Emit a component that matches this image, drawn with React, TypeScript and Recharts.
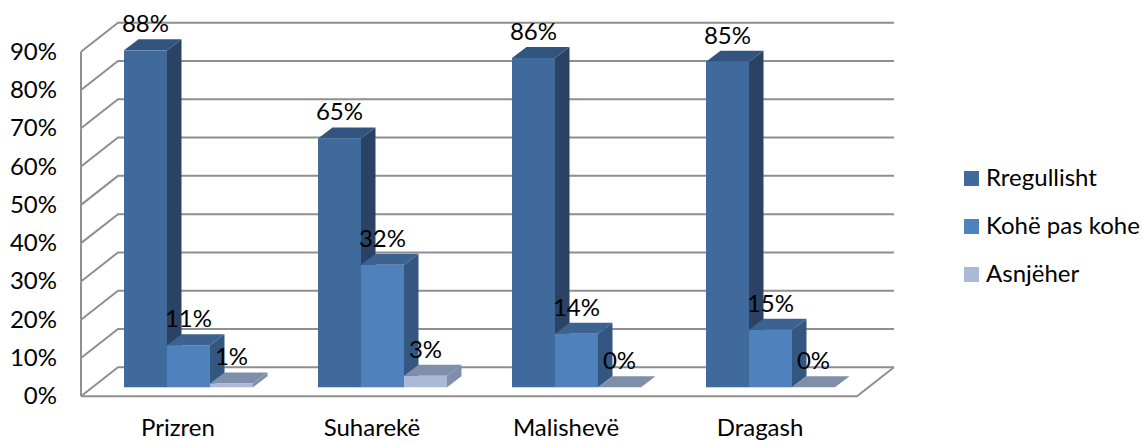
import { BarChart, Bar, XAxis, YAxis, CartesianGrid, Legend, LabelList } from "recharts";

const CITIES = ["Prizren", "Suharekë", "Malishevë", "Dragash"];
const RREGULLISHT = [88, 65, 86, 85];
const KOHE_PAS_KOHE = [11, 32, 14, 15];
const ASNJEHER = [1, 3, 0, 0];
const Y_TICKS = [0, 10, 20, 30, 40, 50, 60, 70, 80, 90];

const SERIES_NAMES = ["Rregullisht", "Kohë pas kohe", "Asnjëher"];
const FACES = [
  { front: "#40699C", side: "#2A4365", top: "#32557F" },
  { front: "#4F81BD", side: "#335781", top: "#3C628F" },
  { front: "#AAB9D8", side: "#7F8FAA", top: "#7F8FAA" },
];

const data = CITIES.map((city, i) => ({
  city,
  rregullisht: RREGULLISHT[i],
  kohe: KOHE_PAS_KOHE[i],
  asnjeher: ASNJEHER[i],
}));

const FONT = "Lato, sans-serif";
const FONT_SIZE = 24;
const GRID = "#8F8F8F";

// how far the extruded faces reach
const BAR_DX = 14.5;
const BAR_DY = 11;

// floor/wall geometry around the bar plane
const WALL_LEFT = 81;
const WALL_BACK = 118;
const WALL_RIGHT = 894;
const FRONT_DY = 9;
const BACK_DY = -20;

function Cuboid(props: any, faces: (typeof FACES)[number]) {
  const { x, y, width, height } = props;
  const right = x + width;
  const bottom = y + height;
  return (
    <g>
      <polygon
        points={`${right},${y} ${right + BAR_DX},${y - BAR_DY} ${right + BAR_DX},${bottom - BAR_DY} ${right},${bottom}`}
        fill={faces.side}
      />
      <polygon
        points={`${x},${y} ${x + BAR_DX},${y - BAR_DY} ${right + BAR_DX},${y - BAR_DY} ${right},${y}`}
        fill={faces.top}
      />
      <rect x={x} y={y} width={width} height={height} fill={faces.front} />
    </g>
  );
}

function WallLine(props: any) {
  const { y1, y, height } = props;
  const front = y1 + FRONT_DY;
  const back = y1 + BACK_DY;
  const isFloor = Math.abs(y1 - (y + height)) < 1;
  const common = { stroke: GRID, strokeWidth: 2, fill: "none" };
  return (
    <g>
      <polyline points={`${WALL_LEFT},${front} ${WALL_BACK},${back} ${WALL_RIGHT},${back}`} {...common} />
      {isFloor ? (
        <polyline
          points={`${WALL_LEFT},${front} ${WALL_RIGHT - (WALL_BACK - WALL_LEFT)},${front} ${WALL_RIGHT},${back}`}
          {...common}
        />
      ) : (
        <line x1={WALL_LEFT} y1={front} x2={WALL_LEFT} y2={front + 38.3} {...common} />
      )}
    </g>
  );
}

function YTick({ x, y, payload }: any) {
  return (
    <text x={x - 27} y={y + FRONT_DY + 8} textAnchor="end" fontFamily={FONT} fontSize={FONT_SIZE} fill="#000">
      {payload.value}%
    </text>
  );
}

function XTick({ x, y, payload }: any) {
  return (
    <text x={x - 11} y={y + 41} textAnchor="middle" fontFamily={FONT} fontSize={FONT_SIZE} fill="#000">
      {payload.value}
    </text>
  );
}

function ValueLabel({ x, y, width, value }: any) {
  return (
    <text x={x + width / 2} y={y - 18} textAnchor="middle" fontFamily={FONT} fontSize={FONT_SIZE} fill="#000">
      {value}%
    </text>
  );
}

function LegendList() {
  return (
    <div style={{ fontFamily: FONT, fontSize: FONT_SIZE, color: "#000" }}>
      {SERIES_NAMES.map((name, i) => (
        <div key={name} style={{ display: "flex", alignItems: "center", height: 48, whiteSpace: "nowrap" }}>
          <span style={{ width: 15, height: 15, background: FACES[i].front, marginRight: 7 }} />
          <span style={{ position: "relative", top: -2 }}>{name}</span>
        </div>
      ))}
    </div>
  );
}

export default function App() {
  return (
    <div style={{ position: "absolute", left: 0, top: 0, width: 1145, height: 442 }}>
      <BarChart
        width={1145}
        height={442}
        data={data}
        barGap={0}
        barCategoryGap={32}
        margin={{ top: 42.7, right: 96, bottom: 0, left: 0 }}
      >
        <CartesianGrid vertical={false} horizontal={WallLine} />
        <XAxis dataKey="city" axisLine={false} tickLine={false} height={54.7} tick={XTick} interval={0} />
        <YAxis
          domain={[0, 90]}
          ticks={Y_TICKS}
          width={92}
          axisLine={false}
          tickLine={false}
          tick={YTick}
          interval={0}
        />
        <Legend
          layout="vertical"
          align="right"
          verticalAlign="top"
          width={181}
          content={<LegendList />}
          wrapperStyle={{ left: 964, right: 0, top: 154 }}
        />
        <Bar dataKey="rregullisht" isAnimationActive={false} shape={(p: any) => Cuboid(p, FACES[0])}>
          <LabelList dataKey="rregullisht" content={ValueLabel} />
        </Bar>
        <Bar dataKey="kohe" isAnimationActive={false} shape={(p: any) => Cuboid(p, FACES[1])}>
          <LabelList dataKey="kohe" content={ValueLabel} />
        </Bar>
        <Bar dataKey="asnjeher" isAnimationActive={false} shape={(p: any) => Cuboid(p, FACES[2])}>
          <LabelList dataKey="asnjeher" content={ValueLabel} />
        </Bar>
      </BarChart>
    </div>
  );
}
